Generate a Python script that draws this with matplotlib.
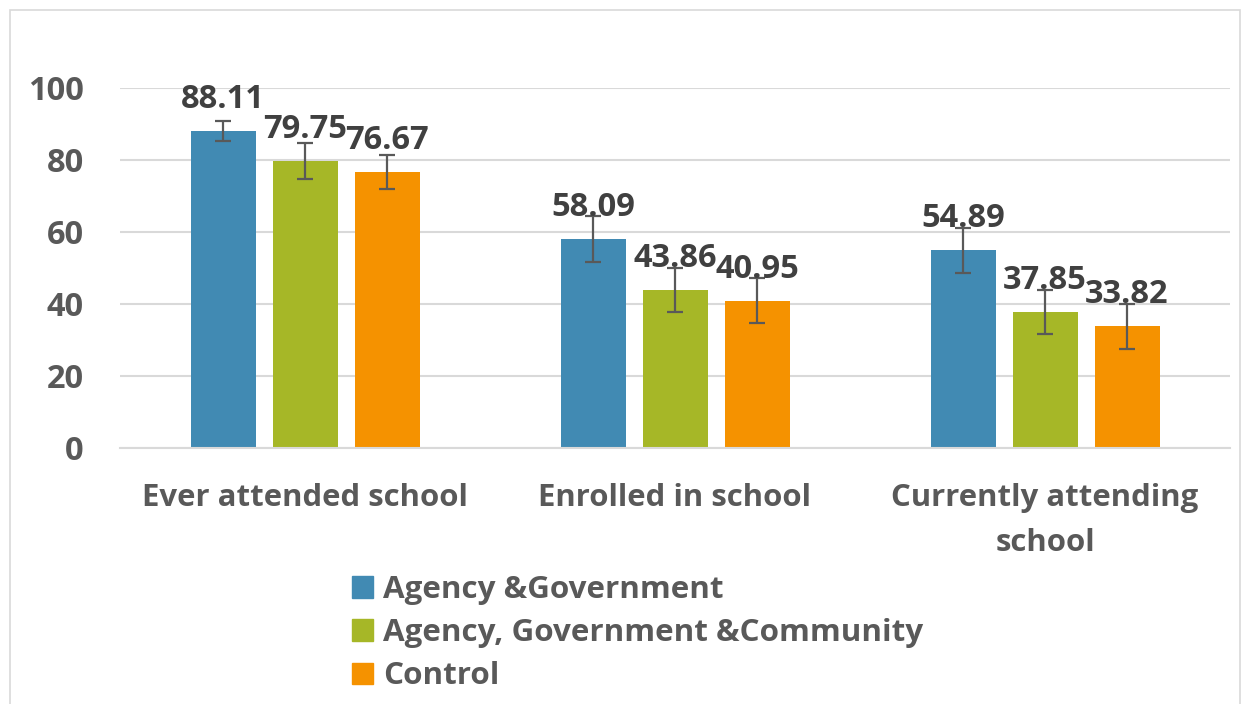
import matplotlib
matplotlib.use("Agg")
import matplotlib.pyplot as plt
import numpy as np
from matplotlib.patches import Rectangle

plt.rcParams['font.family'] = ['Open Sans', 'DejaVu Sans']

categories = ["Ever attended school", "Enrolled in school", "Currently attending\nschool"]
series_names = ["Agency &Government", "Agency, Government &Community", "Control"]
values = {
    "Agency &Government": [88.11, 58.09, 54.89],
    "Agency, Government &Community": [79.75, 43.86, 37.85],
    "Control": [76.67, 40.95, 33.82],
}
errors = {
    "Agency &Government": [2.8, 6.4, 6.3],
    "Agency, Government &Community": [5.0, 6.2, 6.1],
    "Control": [4.7, 6.2, 6.2],
}
colors = ["#418AB3", "#A6B727", "#F59200"]
yticks = [0, 20, 40, 60, 80, 100]

W, H = 1248, 704
fig = plt.figure(figsize=(W / 100, H / 100), dpi=100)
ax = fig.add_axes([120 / W, 1 - 448 / H, 1110 / W, (448 - 88) / H])

x = np.arange(len(categories))
bw = 65 / 370
step = 82 / 370
txt_dark = "#404040"
txt_gray = "#595959"

for i, name in enumerate(series_names):
    pos = x + (i - 1) * step
    ax.bar(pos, values[name], width=bw, color=colors[i], zorder=2)
    ax.errorbar(pos, values[name], yerr=errors[name], fmt='none', ecolor=txt_gray,
                elinewidth=1.6, capsize=6, capthick=1.6, zorder=3)
    for p, v in zip(pos, values[name]):
        ax.annotate(f"{v:.2f}", (p, v), xytext=(0, 16.5), textcoords='offset points',
                    ha='center', va='baseline', fontsize=23.5, fontweight='bold',
                    color=txt_dark, zorder=4)

ax.set_xlim(-0.5, len(categories) - 0.5)
ax.set_ylim(0, 100)
ax.set_yticks(yticks)
ax.set_yticklabels([str(t) for t in yticks])
ax.yaxis.grid(True, color="#D9D9D9", linewidth=1.5, zorder=0)
ax.set_axisbelow(True)
for s in ['top', 'right', 'left']:
    ax.spines[s].set_visible(False)
ax.spines['bottom'].set_color("#D9D9D9")
ax.spines['bottom'].set_linewidth(1.5)
ax.tick_params(axis='y', length=0, pad=26, labelsize=23.5, labelcolor=txt_gray)
ax.tick_params(axis='x', length=0, pad=25, labelsize=22.4, labelcolor=txt_gray)
ax.set_xticks(x)
ax.set_xticklabels(categories, linespacing=1.68)
for lbl in ax.get_xticklabels() + ax.get_yticklabels():
    lbl.set_fontweight('bold')

handles = [Rectangle((0, 0), 1, 1, color=c) for c in colors]
leg = fig.legend(handles, series_names, loc='upper left',
                 bbox_to_anchor=(352 / W, 1 - 575 / H), frameon=False,
                 fontsize=22.6, handlelength=0.67, handleheight=0.67,
                 handletextpad=0.32, labelspacing=0.42, borderaxespad=0, borderpad=0)
for t in leg.get_texts():
    t.set_color(txt_gray)
    t.set_fontweight('bold')

fig.patches.append(Rectangle((10 / W, -0.01), (1240 - 10) / W, 1 - 10 / H + 0.01,
                             transform=fig.transFigure, fill=False,
                             edgecolor="#D9D9D9", linewidth=1.2))

fig.savefig("out.png", dpi=100)
